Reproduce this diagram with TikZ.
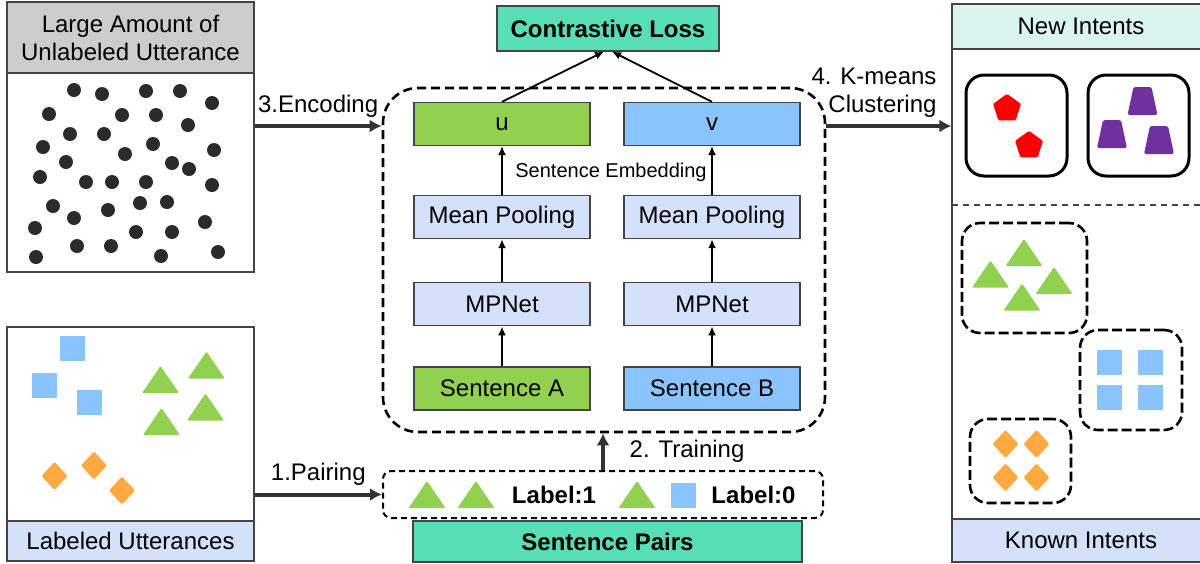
\documentclass[tikz,border=0pt]{standalone}
\usepackage{fontspec}
\setmainfont{Liberation Sans}
\usepackage{tikz}
\usetikzlibrary{positioning,arrows.meta}
\definecolor{leafGreen}{HTML}{92D050}
\definecolor{skyBlue}{HTML}{8AC4FF}
\definecolor{boxBlue}{HTML}{D5E0FA}
\definecolor{lossTeal}{HTML}{57DEB7}
\definecolor{headGray}{HTML}{CCCCCC}
\definecolor{mintBg}{HTML}{DBF5EE}
\definecolor{dotGray}{HTML}{2B2B2B}
\definecolor{arrowGray}{HTML}{333333}
\definecolor{edgeGray}{HTML}{444444}
\definecolor{orangeMark}{HTML}{FFA940}
\definecolor{purpleMark}{HTML}{7030A0}
\tikzset{
  tri/.pic={\fill[leafGreen, rounded corners=0.6pt] (-18.5,13.5) -- (0,-13.5) -- (18.5,13.5) -- cycle;},
  sq/.pic={\fill[skyBlue] (-12.5,-12.5) rectangle (12.5,12.5);},
  dia/.pic={\fill[orangeMark, rounded corners=0.6pt] (-13,0) -- (0,-14) -- (13,0) -- (0,14) -- cycle;},
  pent/.pic={\fill[red, rounded corners=0.6pt] (-90:14.7) \foreach \a in {-18,54,126,198}{ -- (\a:14.7)} -- cycle;},
  trap/.pic={\fill[purpleMark, rounded corners=0.8pt] (-9,-14) -- (9,-14) -- (15,14) -- (-15,14) -- cycle;}
}

\begin{document}
\begin{tikzpicture}[
  x=0.5pt, y=-0.5pt,
  every node/.style={font=\fontsize{12}{14}\selectfont},
  boldtext/.style={font=\fontsize{12}{14}\selectfont\bfseries},
  box/.style={rectangle, draw=edgeGray, line width=0.6pt, inner sep=2pt, align=center},
  colbox/.style={box, minimum width=88pt, minimum height=21.5pt, fill=boxBlue},
  flow/.style={-{Latex[length=6pt,width=6.5pt]}, line width=2pt, draw=arrowGray},
  link/.style={-{Latex[length=4.5pt,width=4pt]}, line width=0.9pt},
  bigdash/.style={draw, line width=1.3pt, dash pattern=on 4.5pt off 2.5pt, rounded corners=17.5pt},
  pairdash/.style={draw, line width=1pt, dash pattern=on 3pt off 2pt, rounded corners=4pt},
  knowndash/.style={draw, line width=1.3pt, dash pattern=on 5pt off 2pt, rounded corners=9pt},
  newbox/.style={draw, line width=1.5pt, rounded corners=9pt}
]
\useasboundingbox (0,0) rectangle (1200,563);
\clip (0,0) rectangle (1200,563);

% left panels
\node[box, fill=headGray, minimum width=123.5pt, minimum height=35.5pt] (unlhead) at (130.5,37.5) {Large Amount of\\Unlabeled Utterance};
\node[box, minimum width=123.5pt, minimum height=99.5pt] (unl) at (130.5,172.5) {};
\node[box, minimum width=123.5pt, minimum height=97pt] (lab) at (130.5,424) {};
\node[box, fill=boxBlue, minimum width=123.5pt, minimum height=20pt] (labfoot) at (130.5,541) {Labeled Utterances};

\foreach \p in {(74,90),(102,94),(146,91),(180,91),(212,103),(49,114),(122,115),(156,115),(188,125),
  (70,134),(104,134),(43,147),(153,144),(125,154),(214,150),(66,162),(172,163),(189,169),
  (40,177),(86,182),(112,182),(146,182),(212,185),(53,206),(108,210),(140,203),(167,202),
  (74,218),(205,222),(35,228),(136,232),(172,232),(77,246),(111,246),(36,257),(161,256),(218,252)}
  \fill[dotGray] \p circle[radius=7];

\foreach \p in {(72.5,348.5),(44.5,385.5),(89.5,402.5)} \pic at \p {sq};
\foreach \p in {(160.5,379.5),(206.5,365),(161.5,421.5),(205.5,407)} \pic at \p {tri};
\foreach \p in {(54.5,476),(94,465.5),(122,490.5)} \pic at \p {dia};

% model
\node[bigdash, minimum width=221pt, minimum height=172pt] (model) at (604,260) {};
\node[box, fill=lossTeal, boldtext, minimum width=111pt, minimum height=22.5pt] (loss) at (608,28.5) {Contrastive Loss};

\node[colbox, fill=leafGreen] (sa) at (502,388.5) {Sentence A};
\node[colbox, above=20pt of sa] (mpa) {MPNet};
\node[colbox, above=21.5pt of mpa] (poola) {Mean Pooling};
\node[colbox, fill=leafGreen, above=24.5pt of poola] (u) {u};

\node[colbox, fill=skyBlue] (sb) at (712,388.5) {Sentence B};
\node[colbox, above=20pt of sb] (mpb) {MPNet};
\node[colbox, above=21.5pt of mpb] (poolb) {Mean Pooling};
\node[colbox, fill=skyBlue, above=24.5pt of poolb] (v) {v};

\node[font=\fontsize{10}{12}\selectfont] (embed) at (611,172) {Sentence Embedding};

\draw[link] (sa) -- (mpa);
\draw[link] (mpa) -- (poola);
\draw[link] (poola) -- (u);
\draw[link] (sb) -- (mpb);
\draw[link] (mpb) -- (poolb);
\draw[link] (poolb) -- (v);
\draw[link] (u.north) -- ([xshift=-2pt]loss.south);
\draw[link] (v.north) -- ([xshift=2pt]loss.south);

% sentence pairs
\node[pairdash, minimum width=220pt, minimum height=23.5pt] (pairs) at (603,494.5) {};
\node[box, fill=lossTeal, boldtext, minimum width=194.5pt, minimum height=20.5pt] (pairfoot) at (607.5,541.5) {Sentence Pairs};
\foreach \p in {(427,494.5),(476,494.5),(637,494.5)} \pic at \p {tri};
\pic at (683.5,495) {sq};
\node[boldtext] (lab1) at (554,495) {Label:1};
\node[boldtext] (lab0) at (753.5,495) {Label:0};

% right panel
\draw[draw=edgeGray, line width=0.6pt] (952,4) rectangle (1210,562);
\node[box, fill=mintBg, minimum width=129pt, minimum height=22.5pt] (newhead) at (1081,26.5) {New Intents};
\node[box, fill=boxBlue, minimum width=129pt, minimum height=21.5pt] (knownfoot) at (1081,540.5) {Known Intents};
\draw[draw=edgeGray, line width=0.7pt, dash pattern=on 3pt off 2.5pt] (952,205) -- (1210,205);

\node[newbox, minimum width=50.5pt, minimum height=50.5pt] (newa) at (1016.5,125.5) {};
\node[newbox, minimum width=50.5pt, minimum height=50.5pt] (newb) at (1138.5,125.5) {};
\foreach \p in {(1007,108.5),(1029,145.5)} \pic at \p {pent};
\foreach \p in {(1142.5,101),(1112,134),(1159,140)} \pic at \p {trap};

\node[knowndash, minimum width=62.5pt, minimum height=55pt] (knowna) at (1024.5,278) {};
\node[knowndash, minimum width=51pt, minimum height=50pt] (knownb) at (1131,380) {};
\node[knowndash, minimum width=50.5pt, minimum height=42pt] (knownc) at (1020.5,461) {};
\foreach \p in {(1024,252.5),(990.5,274),(1054,280.5),(1022,297)} \pic at \p {tri};
\foreach \p in {(1109,362),(1150,362),(1109,397),(1150,397)} \pic at \p {sq};
\foreach \p in {(1005.5,444),(1036.5,444),(1005.5,477.5),(1036.5,477.5)} \pic at \p {dia};

% steps
\coordinate (enc) at (0,126);
\draw[flow] (unl.east |- enc) -- (model.west |- enc) node[midway, above] (enclabel) {3.Encoding};
\draw[flow] (lab.east |- pairs.west) -- (pairs.west) node[midway, above] (pairlabel) {1.Pairing};
\draw[flow] (pairs.north) -- (pairs.north |- model.south) node[midway, right=9pt] (trainlabel) {2. Training};
\draw[flow] (model.east |- enc) -- (newhead.west |- enc) node[pos=0.95, above, anchor=south east, align=right] (clusterlabel) {4. K-means\\Clustering};
\end{tikzpicture}
\end{document}
